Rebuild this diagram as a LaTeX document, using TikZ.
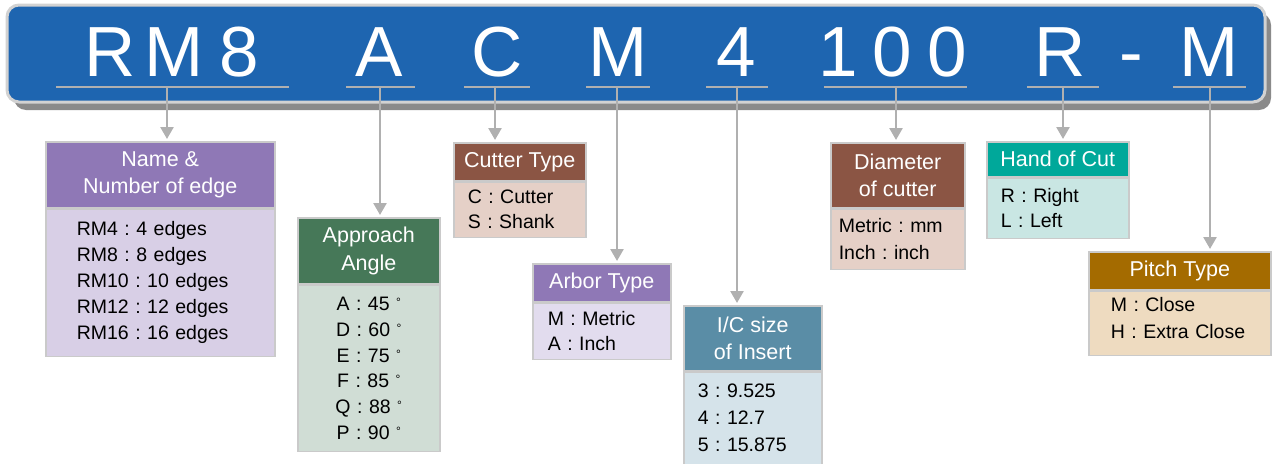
\documentclass[tikz,border=0pt]{standalone}
\usepackage{fontspec}
\setmainfont{Liberation Sans}
\usetikzlibrary{arrows.meta}
\frenchspacing
\definecolor{bannerblue}{HTML}{1E65B0}
\definecolor{bannerrim}{HTML}{D2D2D2}
\definecolor{bannershadow}{HTML}{8A8A8A}
\definecolor{linegray}{HTML}{B0B0B0}
\definecolor{boxrim}{HTML}{CACACA}
\definecolor{purH}{HTML}{8F78B6}
\definecolor{purB}{HTML}{D8CFE6}
\definecolor{purB2}{HTML}{E2DCEE}
\definecolor{grnH}{HTML}{467858}
\definecolor{grnB}{HTML}{D0DDD5}
\definecolor{brnH}{HTML}{8B5544}
\definecolor{brnB}{HTML}{E5D0C7}
\definecolor{bluH}{HTML}{5A8DA6}
\definecolor{bluB}{HTML}{D5E3EA}
\definecolor{teaH}{HTML}{00A89A}
\definecolor{teaB}{HTML}{C9E6E3}
\definecolor{gldH}{HTML}{A46B00}
\definecolor{gldB}{HTML}{EEDBC0}
\newcommand\dg{ \raisebox{4pt}{\fontsize{12pt}{12pt}\selectfont °}}
\begin{document}
\begin{tikzpicture}[x=1pt,y=-1pt,
  big/.style={text=white,font=\fontsize{71pt}{71pt}\selectfont,anchor=base,inner sep=0pt},
  uline/.style={draw=linegray,line width=2.5pt},
  conn/.style={draw=linegray,line width=2.5pt,-{Triangle[width=13pt,length=12pt]},shorten >=2pt},
  hdr/.style={draw=boxrim,line width=1.5pt,text=white,anchor=north west,inner sep=0pt,
     align=center,font=\fontsize{21.5pt}{27.5pt}\selectfont},
  bdy/.style={draw=boxrim,line width=1.5pt,text=black,anchor=north west,inner ysep=0pt,
     align=left,font=\fontsize{19.5pt}{26pt}\selectfont}
]
\useasboundingbox (0,0) rectangle (1273,463);
% banner
\fill[bannershadow,rounded corners=12pt] (14,13) rectangle (1271,110);
\draw[fill=bannerblue,draw=bannerrim,line width=3pt,rounded corners=12pt] (7,5) rectangle (1265,102);
% letters
\node[big] (tR) at (110,76) {R};
\node[big] (tM) at (174,76) {M};
\node[big] (t8) at (239,76) {8};
\node[big] (tA) at (379,76) {A};
\node[big] (tC) at (497,76) {C};
\node[big] (tM2) at (618,76) {M};
\node[big] (t4) at (736,76) {4};
\node[big] (t1) at (838,76) {1};
\node[big] (t0) at (892,76) {0};
\node[big] (t00) at (947,76) {0};
\node[big] (tRR) at (1060,76) {R};
\node[big] (tdash) at (1131,76) {-};
\node[big] (tMM) at (1209,76) {M};
% underlines
\draw[uline] (56,87) -- (289,87);
\draw[uline] (346,87) -- (415,87);
\draw[uline] (464,87) -- (530,87);
\draw[uline] (586,87) -- (650,87);
\draw[uline] (706,87) -- (768,87);
\draw[uline] (824,87) -- (967,87);
\draw[uline] (1027,87) -- (1099,87);
\draw[uline] (1173,87) -- (1246,87);
\coordinate (c1) at (167,87);
\coordinate (c2) at (380,87);
\coordinate (c3) at (495,87);
\coordinate (c4) at (617,87);
\coordinate (c5) at (737,87);
\coordinate (c6) at (896,87);
\coordinate (c7) at (1063,87);
\coordinate (c8) at (1210,87);
% box 1
\node[hdr,fill=purH,minimum width=229pt,minimum height=66pt] (h1) at (45,141) {Name \&\\Number of edge};
\node[bdy,fill=purB,minimum width=229pt,minimum height=147pt,inner xsep=31pt,text width=167pt] (b1) at (h1.south west)
  {RM4 : 4 edges\\RM8 : 8 edges\\RM10 : 10 edges\\RM12 : 12 edges\\RM16 : 16 edges};
% box 2
\node[hdr,fill=grnH,minimum width=142pt,minimum height=66pt] (h2) at (297,217) {Approach\\Angle};
\node[bdy,fill=grnB,minimum width=142pt,minimum height=166pt,text width=142pt,inner xsep=0pt,align=center,
  font=\fontsize{19.5pt}{25.7pt}\selectfont] (b2) at (h2.south west) {A : 45\dg\\D : 60\dg\\E : 75\dg\\F : 85\dg\\Q : 88\dg\\P : 90\dg};
% box 3
\node[hdr,fill=brnH,minimum width=132pt,minimum height=38pt] (h3) at (453,142) {Cutter Type};
\node[bdy,fill=brnB,minimum width=132pt,minimum height=55pt,inner xsep=14pt,text width=104pt,
  font=\fontsize{19.5pt}{25pt}\selectfont] (b3) at (h3.south west) {C : Cutter\\S : Shank};
% box 4
\node[hdr,fill=purH,minimum width=138pt,minimum height=38pt] (h4) at (532,263) {Arbor Type};
\node[bdy,fill=purB2,minimum width=138pt,minimum height=56pt,inner xsep=15pt,text width=108pt,
  font=\fontsize{19.5pt}{24.5pt}\selectfont] (b4) at (h4.south west) {M : Metric\\A : Inch};
% box 5
\node[hdr,fill=bluH,minimum width=138pt,minimum height=65pt] (h5) at (683,305) {I/C size\\of Insert};
\node[bdy,fill=bluB,minimum width=138pt,minimum height=92pt,inner xsep=14pt,text width=110pt,
  font=\fontsize{19.5pt}{27pt}\selectfont] (b5) at (h5.south west) {3 : 9.525\\4 : 12.7\\5 : 15.875};
% box 6
\node[hdr,fill=brnH,minimum width=134pt,minimum height=65pt] (h6) at (830,142) {Diameter\\of cutter};
\node[bdy,fill=brnB,minimum width=134pt,minimum height=60pt,inner xsep=8pt,text width=118pt,
  font=\fontsize{19.5pt}{27pt}\selectfont] (b6) at (h6.south west) {Metric : mm\\Inch : inch};
% box 7
\node[hdr,fill=teaH,minimum width=142pt,minimum height=35pt] (h7) at (986,141) {Hand of Cut};
\node[bdy,fill=teaB,minimum width=142pt,minimum height=60pt,inner xsep=14pt,text width=114pt,
  font=\fontsize{19.5pt}{24.5pt}\selectfont] (b7) at (h7.south west) {R : Right\\L : Left};
% box 8
\node[hdr,fill=gldH,minimum width=182pt,minimum height=38pt] (h8) at (1088,251) {Pitch Type};
\node[bdy,fill=gldB,minimum width=182pt,minimum height=64pt,inner xsep=22pt,text width=138pt,
  font=\fontsize{19.5pt}{27pt}\selectfont] (b8) at (h8.south west) {M : Close\\H : Extra Close\\[-16pt]\mbox{}};
% connectors
\draw[conn] (c1) -- (c1 |- h1.north);
\draw[conn] (c2) -- (c2 |- h2.north);
\draw[conn] (c3) -- (c3 |- h3.north);
\draw[conn] (c4) -- (c4 |- h4.north);
\draw[conn] (c5) -- (c5 |- h5.north);
\draw[conn] (c6) -- (c6 |- h6.north);
\draw[conn] (c7) -- (c7 |- h7.north);
\draw[conn] (c8) -- (c8 |- h8.north);
\end{tikzpicture}
\end{document}
